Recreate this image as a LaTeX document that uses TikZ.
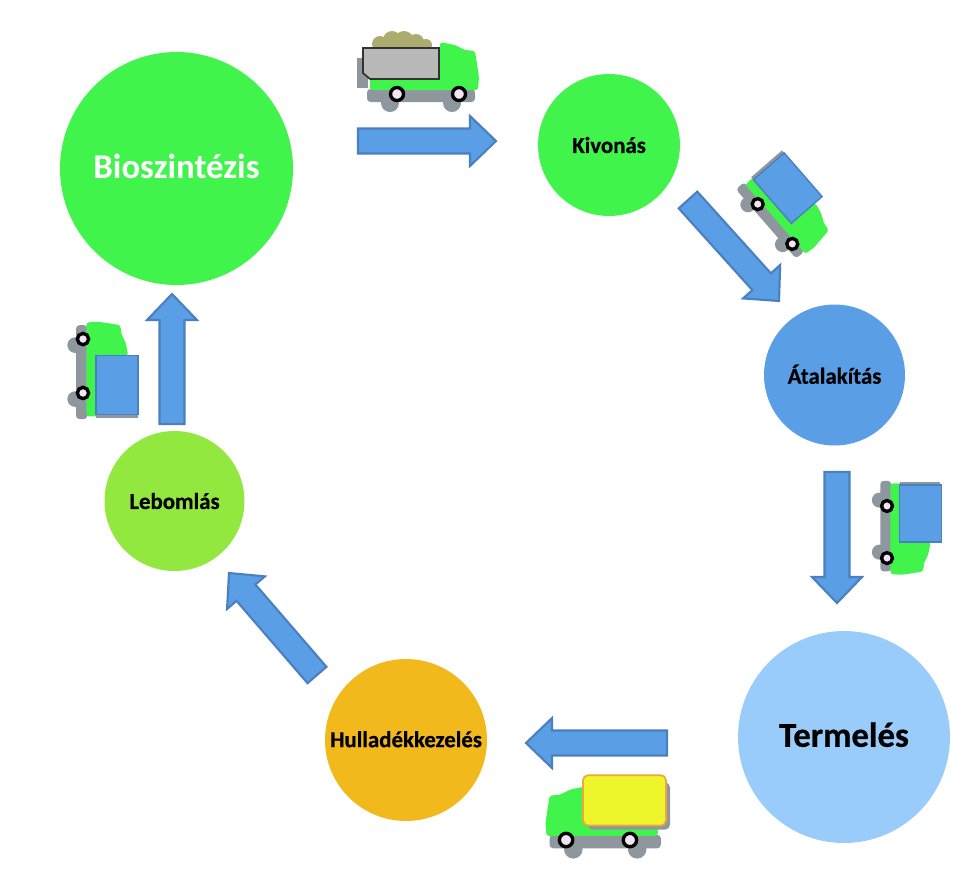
\documentclass[tikz,border=0pt]{standalone}
\usepackage{fontspec}
\setmainfont{Carlito}
\newfontfamily\heavyfont[FakeBold=0.6]{Carlito Bold}
\usetikzlibrary{calc}

\definecolor{truckgreen}{HTML}{40F44C}
\definecolor{truckgrey}{HTML}{8E969E}
\definecolor{flowblue}{HTML}{5A9EE6}
\definecolor{flowedge}{HTML}{4A7FC0}
\definecolor{paleblue}{HTML}{99CCFA}
\definecolor{wasteorange}{HTML}{F2B91D}
\definecolor{decaylime}{HTML}{92E83F}
\definecolor{soilolive}{HTML}{ABAD6E}
\definecolor{loadyellow}{HTML}{EEF52A}
\definecolor{loadedge}{HTML}{EFA63A}

\tikzset{
  stage/.style={circle, inner sep=0pt},
  smalltext/.style={font=\heavyfont\fontsize{13}{13}\selectfont},
  flowarrow/.style={fill=flowblue, draw=flowedge, line width=1.2pt, line join=miter},
  cargobox/.style={fill=flowblue, draw=flowedge, line width=0.8pt},
  cargoshadow/.style={fill=truckgrey}
}

% block arrow from one named coordinate to another
\newcommand{\blockarrow}[2]{
  \coordinate (h) at ($(#2)!.52cm!(#1)$);
  \draw[flowarrow] ($(#1)!.25cm!90:(#2)$) -- ($(h)!.25cm!90:(#2)$) -- ($(h)!.5cm!90:(#2)$)
    -- (#2) -- ($(h)!.5cm!-90:(#2)$) -- ($(h)!.25cm!-90:(#2)$) -- ($(#1)!.25cm!-90:(#2)$) -- cycle;
}

% truck without its cargo: #1 places it, #2 draws the cargo
\newcommand{\lorry}[2]{
  \begin{scope}[#1]
    \fill[truckgrey, rounded corners=2pt] (-61,-5) rectangle (47,8);
    \fill[truckgrey] (-38,9) circle (9);
    \fill[truckgrey] (24,9) circle (9);
    \fill[truckgreen, rounded corners=1.5pt] (12,-52) -- (27,-49) -- (37,-44) -- (47,-43)
      -- (51,-17) -- (50,-4) -- (-58,-4) -- (-58,-20) -- (12,-20) -- cycle;
    #2
    \foreach \wx in {-31,31}
      \filldraw[fill=white!90!violet, draw=black, line width=1.9pt] (\wx,0) circle (6.5);
  \end{scope}
}

\begin{document}
\begin{tikzpicture}[x=0.02cm, y=-0.02cm]
\useasboundingbox (0,0) rectangle (969,894);

% stages
\node[stage, fill=truckgreen, minimum size=4.66cm, text=white, font=\bfseries\fontsize{19.8}{20}\selectfont] (bio) at (176.5,168.5) {\raisebox{2.8pt}{Bioszintézis}};
\node[stage, fill=truckgreen, minimum size=2.84cm, smalltext] (kiv) at (609,145) {Kivonás};
\node[stage, fill=flowblue, minimum size=2.82cm, smalltext] (ata) at (834.5,375) {\raisebox{1pt}{Átalakítás}};
\node[stage, fill=paleblue, minimum size=4.24cm, font=\heavyfont\fontsize{19.8}{20}\selectfont] (ter) at (844,737) {\raisebox{2.8pt}{Termelés}};
\node[stage, fill=wasteorange, minimum size=3.24cm, smalltext] (hul) at (406,740) {\raisebox{1pt}{Hulladékkezelés}};
\node[stage, fill=decaylime, minimum size=2.8cm, smalltext] (leb) at (174.5,501) {Lebomlás};

% arrows
\coordinate (a1) at (358,141);  \coordinate (b1) at (496,141);
\coordinate (a2) at (688,200);  \coordinate (b2) at (779,301);
\coordinate (a3) at (837,472);  \coordinate (b3) at (837,603);
\coordinate (a4) at (667,743);  \coordinate (b4) at (526,743);
\coordinate (a5) at (317,675);  \coordinate (b5) at (229,573);
\coordinate (a6) at (172,424);  \coordinate (b6) at (172,294);
\blockarrow{a1}{b1}
\blockarrow{a2}{b2}
\blockarrow{a3}{b3}
\blockarrow{a4}{b4}
\blockarrow{a5}{b5}
\blockarrow{a6}{b6}

% trucks
\lorry{shift={(428,94)}}{
  \foreach \dx/\dy/\dr in {-48/-50/8,-36/-54/9,-24/-53/10,-12/-52/8,-2/-49/6}
    \fill[soilolive] (\dx,\dy) circle (\dr);
  \fill[cargoshadow] (-71,-36) rectangle (-60,-6);
  \filldraw[fill=gray!55!white, draw=black!80, line width=1pt] (-65,-46) -- (11,-46) -- (11,-15) -- (-58,-15) -- (-65,-21) -- cycle;
}
\lorry{shift={(775,224)}, rotate=-49, scale=.85}{
  \fill[cargoshadow] (-60,-63) rectangle (8,-15);
  \filldraw[cargobox] (-56,-63) rectangle (12,-15);
}
\lorry{shift={(887,532)}, rotate=-90, scale=.84}{
  \fill[cargoshadow] (-60,-63) rectangle (8,-15);
  \filldraw[cargobox] (-56,-65) rectangle (12,-15);
}
\lorry{shift={(598,840)}, xscale=-1, scale=1.03}{
  \fill[cargoshadow, rounded corners=3pt] (-70,-56) rectangle (10,-10);
  \filldraw[fill=loadyellow, draw=loadedge, line width=1pt, rounded corners=3pt] (-66,-63) rectangle (14.6,-14);
}
\lorry{shift={(83,366)}, rotate=-90, xscale=-1, scale=.87}{
  \fill[cargoshadow] (-60,-63) rectangle (8,-15);
  \filldraw[cargobox] (-56,-63) rectangle (12,-15);
}
\end{tikzpicture}
\end{document}
